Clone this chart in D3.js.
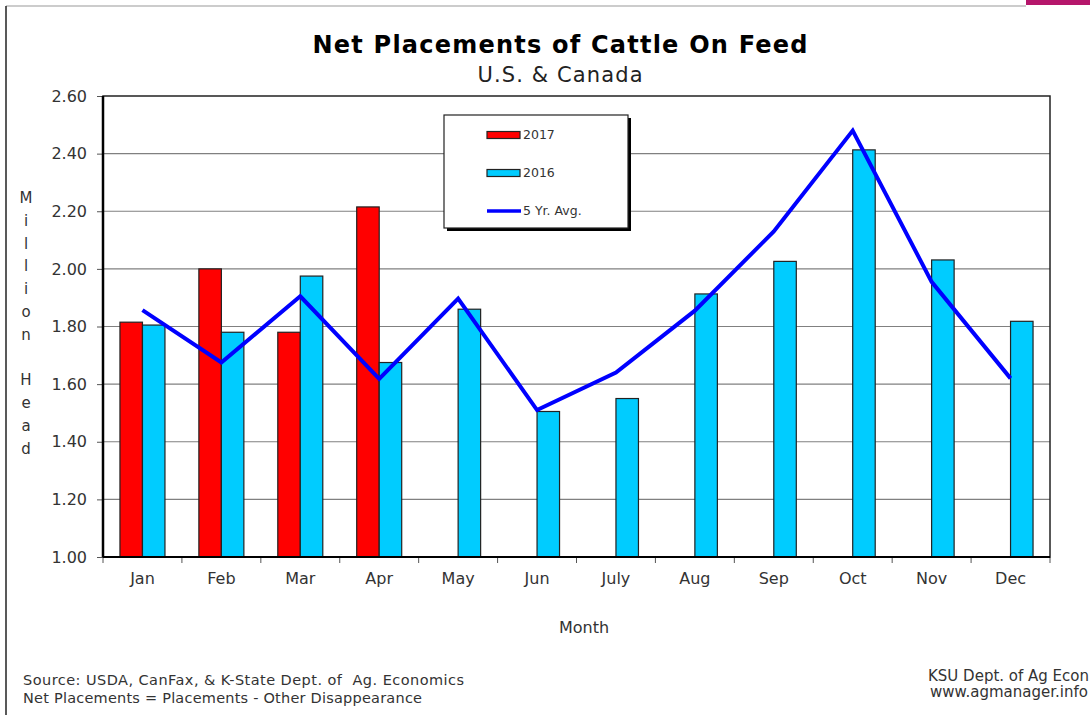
<!DOCTYPE html>
<html>
<head>
<meta charset="utf-8">
<script src="https://cdn.jsdelivr.net/npm/d3@7"></script>
<style>
  body { margin: 0; background: #fff; }
  svg { display: block; font-family: "DejaVu Sans", Verdana, sans-serif; }
</style>
</head>
<body>
<svg width="1090" height="715"></svg>
<script>
var months = ["Jan", "Feb", "Mar", "Apr", "May", "Jun", "July", "Aug", "Sep", "Oct", "Nov", "Dec"];
var series = ["2017", "2016"];
var values2017 = [1.815, 2.00, 1.78, 2.215];
var values2016 = [1.805, 1.78, 1.975, 1.675, 1.86, 1.505, 1.55, 1.913, 2.026, 2.413, 2.031, 1.818];
var fiveYrAvg = [1.857, 1.675, 1.905, 1.618, 1.897, 1.51, 1.64, 1.855, 2.13, 2.48, 1.955, 1.62];
var yTicks = [1.00, 1.20, 1.40, 1.60, 1.80, 2.00, 2.20, 2.40, 2.60];
var yLabel = "Million Head";

var svg = d3.select("svg"),
    width = +svg.attr("width"),
    height = +svg.attr("height");

var margin = {top: 96, right: 40, bottom: 158, left: 103};
var plotW = width - margin.left - margin.right,
    plotH = height - margin.top - margin.bottom;

// page frame (left + top edge) and the corner tab
svg.append("line").attr("x1", 6).attr("y1", 6).attr("x2", 1026).attr("y2", 6)
    .attr("stroke", "#bbb").attr("stroke-width", 1.5);
svg.append("line").attr("x1", 6).attr("y1", 6).attr("x2", 6).attr("y2", height)
    .attr("stroke", "#222").attr("stroke-width", 1.5);
svg.append("rect").attr("x", 1026).attr("y", 0).attr("width", 64).attr("height", 5)
    .attr("fill", "#b5166b");

var x = d3.scaleBand().domain(months).range([0, plotW]);
var x1 = d3.scaleBand().domain(series)
    .range([x.bandwidth() / 2 - 22.5, x.bandwidth() / 2 + 22.5]);
var y = d3.scaleLinear().domain([1.0, 2.6]).range([plotH, 0]);

var g = svg.append("g").attr("transform", "translate(" + margin.left + "," + margin.top + ")");

// gridlines
g.append("g")
    .selectAll("line")
    .data(yTicks.slice(1, -1))
    .enter().append("line")
    .attr("x1", 0).attr("x2", plotW)
    .attr("y1", function(d) { return y(d); })
    .attr("y2", function(d) { return y(d); })
    .attr("stroke", "#808080")
    .attr("stroke-width", 1.2);

// y axis
var yAxis = g.append("g")
    .call(d3.axisLeft(y).tickValues(yTicks).tickFormat(d3.format(".2f")).tickSize(6).tickPadding(10));
yAxis.select(".domain").remove();
yAxis.selectAll("line").attr("stroke", "#555");
yAxis.selectAll("text").attr("fill", "#333").style("font-size", "16px")
    .style("font-family", "DejaVu Sans, Verdana, sans-serif");

// x axis ticks at month boundaries
var xAxis = g.append("g").attr("transform", "translate(0," + plotH + ")")
    .call(d3.axisBottom(x).tickSize(0).tickPadding(16));
xAxis.select(".domain").remove();
xAxis.selectAll("text").attr("fill", "#333").style("font-size", "16px")
    .style("font-family", "DejaVu Sans, Verdana, sans-serif");
g.append("g").selectAll("line")
    .data(months.concat(["end"]))
    .enter().append("line")
    .attr("x1", function(d, i) { return i * x.step(); })
    .attr("x2", function(d, i) { return i * x.step(); })
    .attr("y1", plotH).attr("y2", plotH + 6)
    .attr("stroke", "#555");

// bars
var barData = [];
months.forEach(function(m, i) {
    if (i < values2017.length) barData.push({month: m, key: "2017", value: values2017[i]});
    barData.push({month: m, key: "2016", value: values2016[i]});
});
var color = {"2017": "#ff0000", "2016": "#00ccff"};

g.append("g")
    .selectAll("rect")
    .data(barData)
    .enter().append("rect")
    .attr("x", function(d) { return x(d.month) + x1(d.key); })
    .attr("width", x1.bandwidth())
    .attr("y", function(d) { return y(d.value); })
    .attr("height", function(d) { return plotH - y(d.value); })
    .attr("fill", function(d) { return color[d.key]; })
    .attr("stroke", "#222")
    .attr("stroke-width", 1.2);

// 5 yr avg line
var line = d3.line()
    .x(function(d, i) { return x(months[i]) + x.bandwidth() / 2; })
    .y(function(d) { return y(d); });
g.append("path")
    .datum(fiveYrAvg)
    .attr("d", line)
    .attr("fill", "none")
    .attr("stroke", "#0000ff")
    .attr("stroke-width", 4)
    .attr("stroke-linejoin", "miter");

// plot frame
g.append("rect").attr("x", 0).attr("y", 0).attr("width", plotW).attr("height", plotH)
    .attr("fill", "none").attr("stroke", "#222").attr("stroke-width", 1.5);
g.append("line").attr("x1", 0).attr("x2", 0).attr("y1", 0).attr("y2", plotH)
    .attr("stroke", "#000").attr("stroke-width", 2.5);
g.append("line").attr("x1", 0).attr("x2", plotW).attr("y1", plotH).attr("y2", plotH)
    .attr("stroke", "#000").attr("stroke-width", 2);

// legend
var legend = svg.append("g").attr("transform", "translate(444,115)");
legend.append("rect").attr("x", 3).attr("y", 3).attr("width", 184).attr("height", 113)
    .attr("fill", "#000");
legend.append("rect").attr("x", 0).attr("y", 0).attr("width", 184).attr("height", 113)
    .attr("fill", "#fff").attr("stroke", "#222").attr("stroke-width", 1.2);

var legendItems = [
    {label: "2017", type: "bar", color: color["2017"]},
    {label: "2016", type: "bar", color: color["2016"]},
    {label: "5 Yr. Avg.", type: "line", color: "#0000ff"}
];
var item = legend.selectAll(".legend")
    .data(legendItems)
    .enter().append("g")
    .attr("class", "legend")
    .attr("transform", function(d, i) { return "translate(43," + (20 + i * 38) + ")"; });
item.filter(function(d) { return d.type == "bar"; })
    .append("rect")
    .attr("x", 0).attr("y", -3.5).attr("width", 33).attr("height", 7)
    .attr("fill", function(d) { return d.color; })
    .attr("stroke", "#222").attr("stroke-width", 1.2);
item.filter(function(d) { return d.type == "line"; })
    .append("line")
    .attr("x1", 0).attr("x2", 34).attr("y1", 0).attr("y2", 0)
    .attr("stroke", function(d) { return d.color; })
    .attr("stroke-width", 3.5);
item.append("text")
    .attr("x", 36)
    .attr("dy", ".35em")
    .attr("fill", "#333")
    .style("font-size", "12.5px")
    .text(function(d) { return d.label; });

// titles
svg.append("text").attr("x", 560).attr("y", 53).attr("text-anchor", "middle")
    .style("font-size", "24px").style("font-weight", "bold").attr("fill", "#000")
    .attr("textLength", 495).attr("lengthAdjust", "spacing")
    .text("Net Placements of Cattle On Feed");
svg.append("text").attr("x", 560).attr("y", 82).attr("text-anchor", "middle")
    .style("font-size", "21px").attr("fill", "#222")
    .attr("textLength", 165).attr("lengthAdjust", "spacing")
    .text("U.S. & Canada");

// y label as stacked letters
svg.append("g").selectAll("text")
    .data(yLabel.split(""))
    .enter().append("text")
    .attr("x", 26)
    .attr("y", function(d, i) { return 203 + i * 22.8; })
    .attr("text-anchor", "middle")
    .attr("fill", "#333")
    .style("font-size", "15px")
    .text(function(d) { return d; });

svg.append("text").attr("x", 584).attr("y", 633).attr("text-anchor", "middle")
    .attr("fill", "#333").style("font-size", "16px").text("Month");

// footer notes
var notesLeft = ["Source: USDA, CanFax, & K-State Dept. of  Ag. Economics",
                 "Net Placements = Placements - Other Disappearance"];
var notesLeftWidth = [441, 399];
var notesRight = ["KSU Dept. of Ag Econ", "www.agmanager.info"];
svg.append("g").selectAll("text")
    .data(notesLeft)
    .enter().append("text")
    .attr("x", 23)
    .attr("y", function(d, i) { return 685 + i * 18; })
    .attr("fill", "#333")
    .style("font-size", "14.5px")
    .attr("xml:space", "preserve")
    .attr("textLength", function(d, i) { return notesLeftWidth[i]; })
    .attr("lengthAdjust", "spacing")
    .text(function(d) { return d; });
svg.append("g").selectAll("text")
    .data(notesRight)
    .enter().append("text")
    .attr("x", function(d, i) { return 928 + i * 2; })
    .attr("y", function(d, i) { return 681 + i * 16; })
    .attr("fill", "#333")
    .style("font-size", "15px")
    .text(function(d) { return d; });
</script>
</body>
</html>
